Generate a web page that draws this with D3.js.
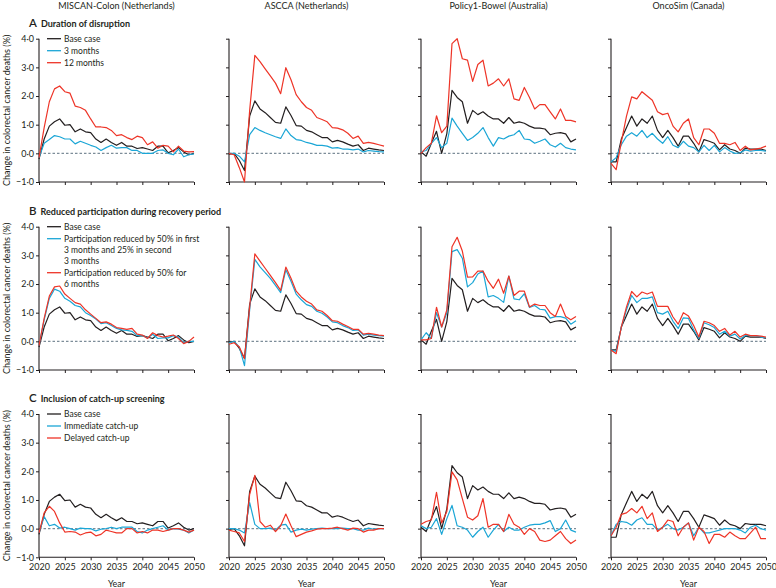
<!DOCTYPE html>
<html>
<head>
<meta charset="utf-8">
<script src="https://cdn.jsdelivr.net/npm/d3@7"></script>
<style>
  body { margin: 0; background: #fff; }
  text { font-family: Lato, "Open Sans", sans-serif; fill: #231f20; }
</style>
</head>
<body>
<div id="chart"></div>
<script>
// ---- data ----
const years = [2020, 2021, 2022, 2023, 2024, 2025, 2026, 2027, 2028, 2029, 2030,
  2031, 2032, 2033, 2034, 2035, 2036, 2037, 2038, 2039, 2040,
  2041, 2042, 2043, 2044, 2045, 2046, 2047, 2048, 2049, 2050];
const models = ["MISCAN-Colon (Netherlands)", "ASCCA (Netherlands)", "Policy1-Bowel (Australia)", "OncoSim (Canada)"];
const panelLetters = ["A", "B", "C"];
const panelTitles = ["Duration of disruption", "Reduced participation during recovery period", "Inclusion of catch-up screening"];
const legendA = [["Base case"], ["3 months"], ["12 months"]];
const legendB = [["Base case"], ["Participation reduced by 50% in first", "3 months and 25% in second", "3 months"], ["Participation reduced by 50% for", "6 months"]];
const legendC = [["Base case"], ["Immediate catch-up"], ["Delayed catch-up"]];
const yTicks = [-1, 0, 1, 2, 3, 4];
const xTicks = [2020, 2025, 2030, 2035, 2040, 2045, 2050];

// base case (same in every row)
const miscanBase = [-0.2, 0.5, 0.95, 1.1, 1.2, 0.98, 1.0, 0.75, 0.85, 0.75, 0.72, 0.5, 0.38, 0.5, 0.38, 0.28, 0.38, 0.25, 0.25, 0.17, 0.2, 0.15, 0.1, 0.25, 0.25, 0.02, 0.1, 0.2, 0.05, -0.05, 0.0];
const asccaBase = [-0.03, 0.0, -0.25, -0.6, 1.3, 1.83, 1.55, 1.42, 1.25, 1.08, 1.05, 1.62, 1.32, 0.97, 0.95, 0.8, 0.75, 0.65, 0.55, 0.55, 0.4, 0.45, 0.4, 0.32, 0.25, 0.3, 0.1, 0.18, 0.15, 0.12, 0.1];
const policyBase = [0.05, -0.1, 0.35, 0.77, 0.0, 0.69, 2.2, 1.95, 1.8, 1.05, 1.5, 1.35, 1.45, 1.3, 1.2, 1.2, 1.05, 1.25, 1.05, 1.1, 1.05, 0.95, 0.88, 0.88, 0.85, 0.65, 0.7, 0.72, 0.68, 0.4, 0.5];
const oncoBase = [-0.3, -0.3, 0.5, 0.9, 1.3, 0.95, 1.2, 1.05, 1.3, 0.8, 0.55, 0.8, 0.55, 0.25, 0.6, 0.6, 0.35, 0.05, 0.48, 0.42, 0.35, 0.12, 0.3, 0.15, 0.1, 0.0, 0.18, 0.15, 0.15, 0.15, 0.1];

// A: duration of disruption
const miscan3m = [-0.15, 0.35, 0.48, 0.62, 0.58, 0.5, 0.5, 0.33, 0.42, 0.35, 0.28, 0.22, 0.1, 0.2, 0.28, 0.18, 0.2, 0.2, 0.1, 0.1, 0.0, 0.0, 0.0, 0.1, 0.12, 0.0, -0.05, 0.15, -0.12, -0.05, -0.02];
const miscan12m = [-0.15, 0.9, 1.8, 2.25, 2.35, 2.15, 2.1, 1.65, 1.6, 1.5, 1.2, 0.92, 0.92, 0.9, 0.8, 0.62, 0.65, 0.55, 0.48, 0.6, 0.55, 0.3, 0.4, 0.18, 0.28, 0.25, 0.05, 0.25, 0.08, 0.05, 0.06];
const ascca3m = [0.0, 0.0, -0.1, -0.3, 0.65, 0.9, 0.8, 0.72, 0.65, 0.58, 0.52, 0.85, 0.62, 0.48, 0.45, 0.38, 0.34, 0.28, 0.28, 0.25, 0.18, 0.2, 0.15, 0.15, 0.12, 0.15, 0.05, 0.1, 0.08, 0.06, 0.05];
const ascca12m = [0.0, -0.05, -0.5, -1.0, 1.5, 3.42, 3.2, 2.95, 2.7, 2.45, 2.08, 2.99, 2.57, 2.05, 1.8, 1.6, 1.5, 1.25, 1.18, 1.1, 0.9, 0.88, 0.82, 0.7, 0.52, 0.6, 0.35, 0.38, 0.35, 0.3, 0.25];
const policy3m = [0.05, 0.1, 0.35, 0.55, 0.2, 0.35, 1.23, 0.95, 0.7, 0.45, 0.55, 0.7, 0.9, 0.55, 0.25, 0.55, 0.5, 0.6, 0.65, 0.8, 0.5, 0.48, 0.35, 0.42, 0.5, 0.3, 0.22, 0.35, 0.2, 0.15, 0.12];
const policy12m = [0.0, 0.2, 0.35, 1.31, 0.72, 0.95, 3.83, 4.0, 3.3, 3.25, 2.51, 3.1, 3.25, 2.35, 2.45, 2.6, 2.35, 2.6, 1.9, 1.85, 2.3, 1.95, 1.55, 1.7, 1.7, 1.45, 1.2, 1.55, 1.15, 1.15, 1.1];
const onco3m = [-0.3, -0.15, 0.3, 0.6, 0.72, 0.6, 0.8, 0.55, 0.7, 0.5, 0.35, 0.58, 0.28, 0.2, 0.42, 0.25, 0.2, 0.05, 0.28, 0.1, 0.28, 0.05, 0.2, 0.08, 0.0, 0.02, 0.12, 0.08, 0.1, 0.1, 0.08];
const onco12m = [-0.35, -0.57, 0.4, 1.3, 1.97, 1.9, 2.15, 2.0, 1.85, 1.45, 1.35, 1.4, 0.95, 0.75, 1.05, 1.2, 0.55, 0.3, 0.85, 0.85, 0.7, 0.35, 0.35, 0.3, 0.38, 0.1, 0.25, 0.12, 0.15, 0.18, 0.25];

// B: reduced participation during recovery
const miscanStep = [-0.15, 0.75, 1.5, 1.82, 1.75, 1.5, 1.4, 1.25, 1.2, 1.0, 0.9, 0.78, 0.62, 0.65, 0.55, 0.45, 0.4, 0.38, 0.35, 0.2, 0.2, 0.12, 0.25, 0.1, 0.12, 0.12, 0.2, 0.15, -0.05, 0.0, 0.0];
const miscanHalf = [-0.15, 0.8, 1.58, 1.9, 1.93, 1.65, 1.5, 1.35, 1.3, 1.1, 0.95, 0.8, 0.65, 0.68, 0.6, 0.48, 0.45, 0.42, 0.45, 0.25, 0.22, 0.1, 0.3, 0.2, 0.15, 0.18, 0.22, 0.1, -0.08, 0.0, 0.15];
const asccaStep = [-0.05, 0.0, -0.2, -0.85, 1.1, 2.86, 2.6, 2.4, 2.2, 1.95, 1.7, 2.5, 2.1, 1.65, 1.45, 1.28, 1.22, 1.05, 0.98, 0.85, 0.68, 0.65, 0.55, 0.48, 0.38, 0.4, 0.22, 0.25, 0.22, 0.2, 0.18];
const asccaHalf = [-0.1, -0.05, -0.2, -0.6, 1.2, 3.05, 2.8, 2.55, 2.3, 2.05, 1.78, 2.59, 2.2, 1.75, 1.55, 1.4, 1.3, 1.1, 1.05, 0.9, 0.72, 0.7, 0.6, 0.52, 0.42, 0.42, 0.25, 0.28, 0.25, 0.22, 0.2];
const policyStep = [0.05, 0.3, 0.1, 1.0, 0.5, 1.0, 3.13, 3.2, 2.9, 1.9, 2.05, 2.35, 2.45, 1.55, 1.6, 1.5, 1.36, 2.28, 1.48, 1.45, 1.66, 1.18, 1.25, 1.12, 1.1, 0.81, 0.86, 0.86, 0.81, 0.6, 0.72];
const policyHalf = [0.05, 0.05, 0.1, 1.19, 0.5, 1.1, 3.3, 3.63, 3.15, 2.24, 2.25, 2.45, 2.45, 2.1, 1.85, 2.17, 1.68, 2.28, 1.6, 1.75, 1.75, 1.2, 1.3, 1.25, 1.25, 1.0, 0.87, 1.3, 0.87, 0.75, 0.87];
const oncoStep = [-0.3, -0.35, 0.5, 1.1, 1.6, 1.35, 1.5, 1.5, 1.55, 1.0, 0.95, 1.05, 0.7, 0.45, 0.82, 0.8, 0.4, 0.1, 0.65, 0.58, 0.48, 0.25, 0.35, 0.18, 0.25, 0.08, 0.2, 0.2, 0.2, 0.15, 0.12];
const oncoHalf = [-0.3, -0.43, 0.5, 1.2, 1.74, 1.55, 1.72, 1.65, 1.72, 1.22, 1.22, 1.22, 0.85, 0.6, 1.0, 0.88, 0.55, 0.15, 0.7, 0.65, 0.55, 0.35, 0.45, 0.22, 0.35, 0.15, 0.25, 0.2, 0.2, 0.18, 0.15];

// C: catch-up screening
const miscanImmediate = [-0.15, 0.42, 0.1, 0.15, 0.02, 0.05, 0.0, -0.05, 0.02, 0.0, 0.0, -0.08, -0.02, 0.0, 0.05, 0.0, 0.05, 0.05, 0.05, -0.1, -0.15, -0.05, 0.0, 0.05, 0.1, -0.05, 0.0, -0.02, -0.05, -0.15, -0.05];
const miscanDelayed = [-0.15, 0.55, 0.78, 0.6, 0.2, -0.12, -0.1, -0.12, -0.22, -0.15, -0.12, -0.25, -0.2, -0.05, -0.1, -0.15, -0.15, 0.0, 0.0, -0.15, -0.1, -0.15, -0.05, -0.05, -0.1, -0.05, 0.0, 0.0, -0.05, -0.12, -0.05];
const asccaImmediate = [0.0, 0.0, -0.05, -0.15, 0.91, 0.15, 0.0, 0.0, 0.02, -0.05, 0.12, 0.15, -0.12, -0.05, -0.02, -0.05, -0.02, 0.0, 0.02, 0.0, 0.0, 0.0, 0.02, 0.0, 0.0, -0.05, -0.05, 0.02, -0.02, 0.0, 0.0];
const asccaDelayed = [-0.05, -0.1, -0.15, -0.45, 1.2, 1.86, 0.25, 0.05, 0.12, -0.1, 0.1, 0.51, 0.1, -0.28, -0.2, -0.12, -0.08, -0.02, 0.0, 0.0, 0.02, 0.05, 0.0, -0.05, 0.02, 0.0, -0.12, -0.05, -0.05, 0.0, 0.0];
const policyImmediate = [0.1, 0.0, 0.05, 0.35, -0.2, 0.35, 0.81, 0.1, 0.05, -0.05, -0.3, -0.1, 0.05, -0.3, -0.05, 0.15, -0.1, 0.05, -0.05, -0.05, 0.05, 0.12, 0.15, 0.15, 0.2, 0.28, -0.1, 0.0, 0.3, -0.05, -0.12];
const policyDelayed = [0.15, 0.25, 0.3, 1.27, 0.2, 0.6, 1.98, 1.7, 1.05, 0.4, 0.3, 0.45, 1.05, 0.05, 0.15, 0.15, -0.1, 0.5, 0.15, 0.05, -0.2, 0.0, -0.1, -0.4, -0.45, -0.4, -0.25, -0.1, -0.35, -0.52, -0.4];
const oncoImmediate = [-0.25, 0.15, 0.25, 0.22, 0.12, 0.3, 0.38, 0.15, 0.15, -0.05, 0.05, 0.15, 0.0, -0.05, 0.05, 0.2, -0.25, 0.05, -0.15, -0.15, -0.1, -0.05, 0.0, 0.0, 0.0, -0.05, -0.15, 0.05, 0.12, 0.0, -0.05];
const oncoDelayed = [-0.25, 0.05, 0.5, 0.55, 0.7, 0.55, 0.78, 0.35, 0.55, -0.1, 0.05, 0.3, 0.25, -0.25, 0.05, 0.2, -0.4, 0.05, -0.1, -0.52, -0.2, -0.2, -0.3, -0.12, -0.25, -0.35, -0.35, -0.15, 0.05, -0.35, -0.35];

// ---- layout ----
const WIDTH = 776, HEIGHT = 588;
const COL_X = [39, 229, 421, 611];
const ROW_Y = [38.7, 226.7, 414];
const PLOT_W = 155, PLOT_H = 143.3;
const COLORS = ["#231f20", "#1ba6d6", "#ee3427"];

const panels = [
  [[miscanBase, miscan3m, miscan12m], [asccaBase, ascca3m, ascca12m], [policyBase, policy3m, policy12m], [oncoBase, onco3m, onco12m]],
  [[miscanBase, miscanStep, miscanHalf], [asccaBase, asccaStep, asccaHalf], [policyBase, policyStep, policyHalf], [oncoBase, oncoStep, oncoHalf]],
  [[miscanBase, miscanImmediate, miscanDelayed], [asccaBase, asccaImmediate, asccaDelayed], [policyBase, policyImmediate, policyDelayed], [oncoBase, oncoImmediate, oncoDelayed]]
];
const legends = [legendA, legendB, legendC];

const svg = d3.select("#chart").append("svg")
  .attr("width", WIDTH)
  .attr("height", HEIGHT);

const x = d3.scaleLinear().domain([2020, 2050]).range([0, PLOT_W]);
const y = d3.scaleLinear().domain([-1, 4]).range([PLOT_H, 0]);
const fmtY = d => d3.format(".1f")(d).replace(".", "\u00b7").replace("-", "\u2212");

const line = d3.line()
  .x((d, i) => x(years[i]))
  .y(d => y(d));

// column titles
models.forEach((m, c) => {
  svg.append("text")
    .attr("x", COL_X[c] + PLOT_W / 2)
    .attr("y", 9)
    .attr("text-anchor", "middle")
    .style("font-size", "9px")
    .text(m);
});

panelLetters.forEach((letter, r) => {
  // panel heading
  const head = svg.append("text")
    .attr("x", 29)
    .attr("y", ROW_Y[r] - 12);
  head.append("tspan").style("font-size", "11.5px").style("font-weight", "600").text(letter);
  head.append("tspan").attr("dx", 4).style("font-size", "9px").style("font-weight", "700").text(panelTitles[r]);

  // y-axis title
  svg.append("text")
    .attr("transform", "translate(7," + (ROW_Y[r] + PLOT_H / 2) + ") rotate(-90)")
    .attr("text-anchor", "middle")
    .attr("dy", "0.35em")
    .style("font-size", "9px")
    .text("Change in colorectal cancer deaths (%)");

  COL_X.forEach((cx, c) => {
    const g = svg.append("g").attr("transform", "translate(" + cx + "," + ROW_Y[r] + ")");

    // zero reference line
    g.append("line")
      .attr("x1", 0).attr("x2", PLOT_W)
      .attr("y1", y(0)).attr("y2", y(0))
      .attr("stroke", "#7d8d99")
      .attr("stroke-width", 1.2)
      .attr("stroke-dasharray", "2.5,2");

    const yAx = g.append("g")
      .call(d3.axisLeft(y).tickValues(yTicks).tickSize(3).tickPadding(2)
        .tickFormat(c === 0 ? fmtY : ""));
    const xAx = g.append("g")
      .attr("transform", "translate(0," + PLOT_H + ")")
      .call(d3.axisBottom(x).tickValues(xTicks).tickSize(3).tickPadding(3)
        .tickFormat(r === 2 ? d3.format("d") : ""));
    [yAx, xAx].forEach(ax => {
      ax.select(".domain").attr("stroke", "#231f20").attr("stroke-width", 1.1);
      ax.selectAll(".tick line").attr("stroke", "#231f20");
      ax.selectAll(".tick text").style("font-family", "Lato, sans-serif").style("font-size", "9px").attr("fill", "#231f20");
    });
    xAx.select(".domain").attr("d", "M0,0H" + PLOT_W);
    yAx.select(".domain").attr("d", "M0,0V" + PLOT_H);

    if (r === 2) {
      g.append("text")
        .attr("x", PLOT_W / 2)
        .attr("y", PLOT_H + 30)
        .attr("text-anchor", "middle")
        .style("font-size", "9px")
        .text("Year");
    }

    panels[r][c].forEach((series, k) => {
      g.append("path")
        .datum(series)
        .attr("d", line)
        .attr("fill", "none")
        .attr("stroke", COLORS[k])
        .attr("stroke-width", 1.2)
        .attr("stroke-linejoin", "round");
    });
  });

  // legend
  let ly = ROW_Y[r];
  legends[r].forEach((lines, k) => {
    svg.append("line")
      .attr("x1", 47).attr("x2", 61)
      .attr("y1", ly).attr("y2", ly)
      .attr("stroke", COLORS[k])
      .attr("stroke-width", 1.3);
    lines.forEach((t, j) => {
      svg.append("text")
        .attr("x", 64)
        .attr("y", ly + j * 11)
        .attr("dy", "0.35em")
        .style("font-size", "8.5px")
        .text(t);
    });
    ly += (lines.length - 1) * 11 + 12;
  });
});
</script>
</body>
</html>
